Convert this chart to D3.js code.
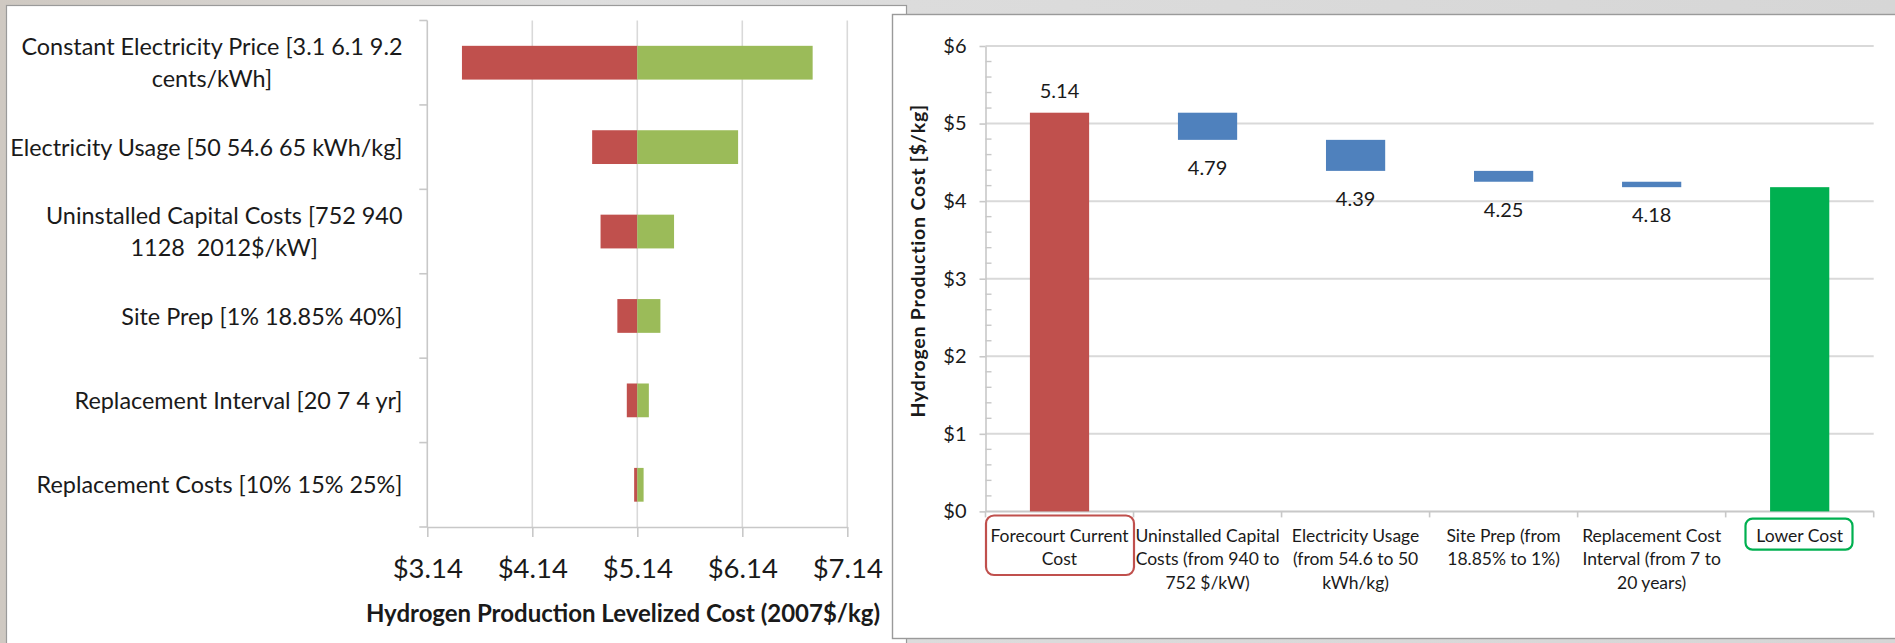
<!DOCTYPE html>
<html>
<head>
<meta charset="utf-8">
<script src="https://cdn.jsdelivr.net/npm/d3@7"></script>
<style>
  html, body { margin: 0; padding: 0; background: #d8d8d8; overflow: hidden; }
  svg { display: block; }
  text { font-family: Lato, "Open Sans", sans-serif; fill: #1a1a1a; }
</style>
</head>
<body>
<svg id="chart" width="1895" height="643"></svg>
<script>
// ---- Tornado: sensitivity of the levelized cost to each input ----
const tornadoLabels = [
  ["Constant Electricity Price [3.1 6.1 9.2", "cents/kWh]"],
  ["Electricity Usage [50 54.6 65 kWh/kg]"],
  ["Uninstalled Capital Costs [752 940", "1128  2012$/kW]"],
  ["Site Prep [1% 18.85% 40%]"],
  ["Replacement Interval [20 7 4 yr]"],
  ["Replacement Costs [10% 15% 25%]"]
];
const baseCost = 5.14;
const lowCase  = [3.47, 4.71, 4.79, 4.95, 5.04, 5.11];
const highCase = [6.81, 6.10, 5.49, 5.36, 5.25, 5.20];
const tornadoTicks = [3.14, 4.14, 5.14, 6.14, 7.14];

// ---- Waterfall: cost reductions from the forecourt current cost ----
const stepLabels = [
  ["Forecourt Current", "Cost"],
  ["Uninstalled Capital", "Costs (from 940 to", "752 $/kW)"],
  ["Electricity Usage", "(from 54.6 to 50", "kWh/kg)"],
  ["Site Prep (from", "18.85% to 1%)"],
  ["Replacement Cost", "Interval (from 7 to", "20 years)"],
  ["Lower Cost"]
];
const stepValues = [5.14, 4.79, 4.39, 4.25, 4.18, 4.18];
const costTicks = [0, 1, 2, 3, 4, 5, 6];

const RED = "#C0504D", LIGHTGREEN = "#9BBB59", BLUE = "#4F81BD", GREEN = "#00B050";
const GRID = "#d9d9d9", AXIS = "#c8c8c8";

const svg = d3.select("#chart");

// slide background and the two chart panels
const defs = svg.append("defs");
const bg = defs.append("linearGradient").attr("id", "bg").attr("x1", 0).attr("x2", 1);
bg.append("stop").attr("offset", 0).attr("stop-color", "#cfc9c2");
bg.append("stop").attr("offset", 0.3).attr("stop-color", "#dedede");
bg.append("stop").attr("offset", 1).attr("stop-color", "#d6d6d6");
svg.append("rect").attr("width", 1895).attr("height", 643).attr("fill", "url(#bg)");

svg.append("rect").attr("x", 6.5).attr("y", 5.5).attr("width", 900).attr("height", 650)
  .attr("fill", "#fff").attr("stroke", "#9a9a9a").attr("stroke-width", 1.2);
svg.append("rect").attr("x", 892.5).attr("y", 14.5).attr("width", 1010).attr("height", 624)
  .attr("fill", "#fff").attr("stroke", "#9a9a9a").attr("stroke-width", 1.4);

// ================= Tornado chart =================
{
  const g = svg.append("g");
  const x = d3.scaleLinear().domain([3.14, 7.14]).range([427.3, 847.3]);
  const y = d3.scaleBand().domain(d3.range(tornadoLabels.length))
    .range([20.5, 527]).paddingInner(0.6).paddingOuter(0.3);
  const top = 20.5, bottom = 527;

  // vertical gridlines
  g.append("g").selectAll("line").data(tornadoTicks.slice(1)).join("line")
    .attr("x1", d => x(d)).attr("x2", d => x(d))
    .attr("y1", top).attr("y2", bottom)
    .attr("stroke", GRID).attr("stroke-width", 1.6);

  // value axis along the bottom
  const xAxis = g.append("g").attr("transform", `translate(0,${bottom})`)
    .call(d3.axisBottom(x).tickValues(tornadoTicks).tickSize(10).tickSizeOuter(0)
      .tickPadding(14).tickFormat(d => "$" + d.toFixed(2)));
  xAxis.select(".domain").attr("stroke", AXIS).attr("stroke-width", 1.6);
  xAxis.selectAll(".tick line").attr("stroke", AXIS).attr("stroke-width", 1.6);
  xAxis.selectAll(".tick text").attr("font-size", 27.5).attr("fill", "#1a1a1a")
    .attr("dy", null).attr("y", 50.5);

  // category axis with boundary ticks
  const bounds = d3.range(tornadoLabels.length + 1).map(i => top + i * y.step());
  g.append("line").attr("x1", x(3.14)).attr("x2", x(3.14)).attr("y1", top).attr("y2", bottom)
    .attr("stroke", AXIS).attr("stroke-width", 1.6);
  g.append("g").selectAll("line").data(bounds).join("line")
    .attr("x1", x(3.14) - 8).attr("x2", x(3.14)).attr("y1", d => d).attr("y2", d => d)
    .attr("stroke", AXIS).attr("stroke-width", 1.6);

  // bars: low case (red) and high case (green) around the base cost
  g.append("g").selectAll("rect").data(lowCase).join("rect")
    .attr("x", d => x(d)).attr("width", d => x(baseCost) - x(d))
    .attr("y", (d, i) => y(i)).attr("height", y.bandwidth()).attr("fill", RED);
  g.append("g").selectAll("rect").data(highCase).join("rect")
    .attr("x", x(baseCost)).attr("width", d => x(d) - x(baseCost))
    .attr("y", (d, i) => y(i)).attr("height", y.bandwidth()).attr("fill", LIGHTGREEN);

  // category labels: block right-aligned, wrapped lines centred in the block
  const labelRight = 402.5, fs = 23.4, lineH = 32;
  tornadoLabels.forEach((lines, i) => {
    const cy = y(i) + y.bandwidth() / 2;
    const t = g.append("g");
    const texts = lines.map((s, k) => t.append("text")
      .attr("font-size", fs).attr("xml:space", "preserve").style("white-space", "pre")
      .attr("y", cy + (k - (lines.length - 1) / 2) * lineH + 8.6)
      .text(s));
    const w = d3.max(texts, n => n.node().getComputedTextLength());
    texts.forEach(n => n.attr("x", labelRight - w / 2).attr("text-anchor", "middle"));
  });

  g.append("text").attr("x", 623).attr("y", 622).attr("text-anchor", "middle")
    .attr("font-size", 24).attr("font-weight", 700)
    .text("Hydrogen Production Levelized Cost (2007$/kg)");
}

// ================= Waterfall chart =================
{
  const g = svg.append("g");
  const x = d3.scaleBand().domain(d3.range(stepLabels.length))
    .range([985.5, 1873.7]).paddingInner(0.6).paddingOuter(0.3);
  const y = d3.scaleLinear().domain([0, 6]).range([511.4, 46]);
  const left = 985.5, right = 1873.7;

  // horizontal gridlines
  g.append("g").selectAll("line").data(costTicks.slice(1)).join("line")
    .attr("x1", left).attr("x2", right).attr("y1", d => y(d)).attr("y2", d => y(d))
    .attr("stroke", GRID).attr("stroke-width", 2);

  // value axis with inner minor ticks
  const yAxis = g.append("g").attr("transform", `translate(${left},0)`)
    .call(d3.axisLeft(y).tickValues(costTicks).tickSize(6).tickSizeOuter(0)
      .tickPadding(13).tickFormat(d => "$" + d));
  yAxis.select(".domain").attr("stroke", AXIS).attr("stroke-width", 1.6);
  yAxis.selectAll(".tick line").attr("stroke", AXIS).attr("stroke-width", 1.6);
  yAxis.selectAll(".tick text").attr("font-size", 20).attr("fill", "#1a1a1a");
  const minor = d3.range(0, 6.001, 0.2).filter(v => Math.abs(v - Math.round(v)) > 0.01);
  g.append("g").selectAll("line").data(minor).join("line")
    .attr("x1", left).attr("x2", left + 6).attr("y1", d => y(d)).attr("y2", d => y(d))
    .attr("stroke", AXIS).attr("stroke-width", 1.4);

  // category axis
  g.append("line").attr("x1", left).attr("x2", right).attr("y1", y(0)).attr("y2", y(0))
    .attr("stroke", AXIS).attr("stroke-width", 2);
  const bounds = d3.range(stepLabels.length + 1).map(i => left + i * x.step());
  g.append("g").selectAll("line").data(bounds).join("line")
    .attr("x1", d => d).attr("x2", d => d).attr("y1", y(0)).attr("y2", y(0) + 6)
    .attr("stroke", AXIS).attr("stroke-width", 1.6);

  // bars: first and last from zero, steps between successive values
  const last = stepValues.length - 1;
  const bars = stepValues.map((v, i) => {
    if (i === 0) return { i, y0: 0, y1: v, fill: RED };
    if (i === last) return { i, y0: 0, y1: v, fill: GREEN };
    return { i, y0: v, y1: stepValues[i - 1], fill: BLUE };
  });
  g.append("g").selectAll("rect").data(bars).join("rect")
    .attr("x", d => x(d.i)).attr("width", x.bandwidth())
    .attr("y", d => y(d.y1)).attr("height", d => y(d.y0) - y(d.y1))
    .attr("fill", d => d.fill);

  // value labels: above the starting bar, below each step
  g.append("g").selectAll("text").data(bars.filter(d => d.i !== last)).join("text")
    .attr("x", d => x(d.i) + x.bandwidth() / 2)
    .attr("y", d => d.i === 0 ? y(d.y1) - 15 : y(d.y0) + 35)
    .attr("text-anchor", "middle").attr("font-size", 20)
    .text(d => stepValues[d.i].toFixed(2));

  // category labels
  const lineH = 23.2, fs = 17.5;
  stepLabels.forEach((lines, i) => {
    const cx = x(i) + x.bandwidth() / 2;
    lines.forEach((s, k) => g.append("text")
      .attr("x", cx).attr("y", 536 + k * lineH + 6.2)
      .attr("text-anchor", "middle").attr("font-size", fs).text(s));
  });

  // outlined first and last category names
  g.append("rect").attr("x", 986).attr("y", 515.5).attr("width", 148).attr("height", 59.5)
    .attr("rx", 8).attr("fill", "none").attr("stroke", RED).attr("stroke-width", 2.2);
  g.append("rect").attr("x", 1745.5).attr("y", 518.7).attr("width", 107).attr("height", 31)
    .attr("rx", 7).attr("fill", "none").attr("stroke", GREEN).attr("stroke-width", 2.2);

  g.append("text").attr("transform", `translate(925,260.8) rotate(-90)`)
    .attr("text-anchor", "middle").attr("font-size", 19.5).attr("font-weight", 700)
    .attr("letter-spacing", 0.8)
    .text("Hydrogen Production Cost  [$/kg]");
}
</script>
</body>
</html>
